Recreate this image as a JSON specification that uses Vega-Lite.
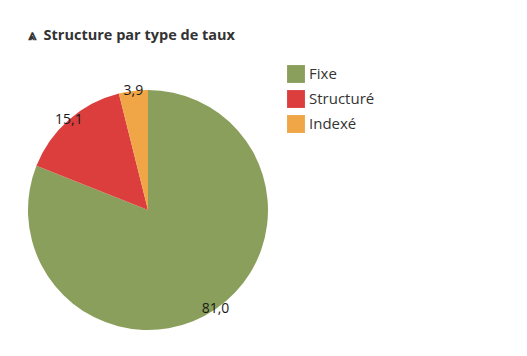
{
  "$schema": "https://vega.github.io/schema/vega-lite/v6.json",
  "width": 240,
  "height": 240,
  "autosize": {"type": "none"},
  "padding": {"left": 28, "top": 90, "right": 259, "bottom": 26},
  "background": "white",
  "view": {"stroke": null},
  "title": {
    "text": "⩓\u00a0\u00a0Structure par type de taux",
    "anchor": "start",
    "frame": "group",
    "offset": 22,
    "dx": 0,
    "font": "Open Sans",
    "fontSize": 14.5,
    "fontWeight": "bold",
    "color": "#333333"
  },
  "data": {
    "values": [
      {"type": "Fixe", "value": 81.0, "label": "81,0", "ord": 1},
      {"type": "Structuré", "value": 15.1, "label": "15,1", "ord": 2},
      {"type": "Indexé", "value": 3.9, "label": "3,9", "ord": 3}
    ]
  },
  "encoding": {
    "theta": {"field": "value", "type": "quantitative", "stack": true},
    "order": {"field": "ord", "type": "quantitative"},
    "color": {
      "field": "type",
      "type": "nominal",
      "scale": {"domain": ["Fixe", "Structuré", "Indexé"], "range": ["#8b9f5c", "#dc3e3e", "#f0a546"]},
      "legend": {
        "title": null,
        "orient": "none",
        "legendX": 259,
        "legendY": -25,
        "symbolType": "square",
        "symbolSize": 320,
        "symbolStrokeWidth": 0,
        "symbolOpacity": 1,
        "labelFont": "Open Sans",
        "labelFontSize": 15,
        "labelColor": "#333333",
        "labelOffset": 4,
        "rowPadding": 7
      }
    }
  },
  "layer": [
    {"mark": {"type": "arc", "outerRadius": 120}},
    {
      "mark": {"type": "text", "radius": 120, "font": "Open Sans", "fontSize": 14, "color": "#1a1a1a"},
      "encoding": {"text": {"field": "label"}, "color": {"value": "#1a1a1a"}}
    }
  ]
}
